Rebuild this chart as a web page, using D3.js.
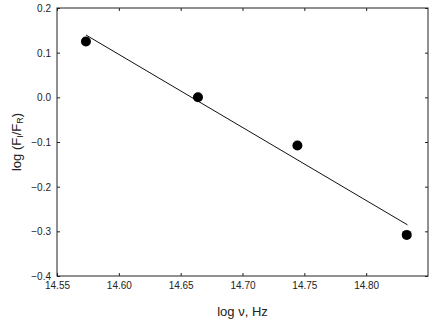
<!DOCTYPE html>
<html>
<head>
<meta charset="utf-8">
<script src="https://cdn.jsdelivr.net/npm/d3@7"></script>
<style>
  body { margin: 0; background: #fff; }
  text { font-family: "Liberation Sans", Arial, sans-serif; fill: #222; }
</style>
</head>
<body>
<svg id="chart"></svg>
<script>
/* data */
var logNu = [14.5734, 14.664, 14.7444, 14.8328];
var logRatio = [0.125, 0.0, -0.108, -0.308];
var fitX = [14.5734, 14.8334];
var fitY = [0.1396, -0.2855];
var xTicks = [14.55, 14.60, 14.65, 14.70, 14.75, 14.80];
var yTicks = [0.2, 0.1, 0.0, -0.1, -0.2, -0.3, -0.4];

var width = 436, height = 326,
    margin = { top: 8, right: 8, bottom: 50, left: 57 };
var innerWidth = width - margin.left - margin.right,
    innerHeight = height - margin.top - margin.bottom;

var svg = d3.select("#chart")
    .attr("width", width)
    .attr("height", height);

var g = svg.append("g")
    .attr("transform", "translate(" + margin.left + "," + margin.top + ")");

var x = d3.scaleLinear().domain([14.55, 14.85]).range([0, innerWidth]);
var y = d3.scaleLinear().domain([-0.4, 0.2]).range([innerHeight, 0]);

/* frame */
g.append("rect")
    .attr("width", innerWidth)
    .attr("height", innerHeight)
    .attr("fill", "none")
    .attr("stroke", "#222")
    .attr("stroke-width", 1);

/* axes, ticks pointing inward */
var xAxis = d3.axisBottom(x).tickValues(xTicks).tickSize(-3).tickPadding(6)
    .tickFormat(d3.format(".2f"));
var gx = g.append("g")
    .attr("transform", "translate(0," + innerHeight + ")")
    .call(xAxis);

var yAxis = d3.axisLeft(y).tickValues(yTicks).tickSize(-3).tickPadding(6)
    .tickFormat(d3.format(".1f"));
var gy = g.append("g").call(yAxis);

// mirrored ticks on top and right (no labels)
var gt = g.append("g").call(d3.axisTop(x).tickValues(xTicks).tickSize(-3));
var gr = g.append("g").attr("transform", "translate(" + innerWidth + ",0)")
    .call(d3.axisRight(y).tickValues(yTicks).tickSize(-3));
gt.selectAll("text").remove();
gr.selectAll("text").remove();

g.selectAll(".domain").remove();
g.selectAll(".tick line").attr("stroke", "#222");
g.selectAll(".tick text")
    .style("font-family", "'Liberation Sans', Arial, sans-serif")
    .style("font-size", "10px")
    .attr("fill", "#222");
gy.selectAll(".tick text").attr("dy", "0.35em");

/* fitted line */
var line = d3.line()
    .x(function(d) { return x(d[0]); })
    .y(function(d) { return y(d[1]); });

g.append("path")
    .datum(d3.zip(fitX, fitY))
    .attr("fill", "none")
    .attr("stroke", "#111")
    .attr("stroke-width", 1)
    .attr("d", line);

/* points */
g.selectAll("circle.pt")
    .data(d3.zip(logNu, logRatio))
    .enter().append("circle")
    .attr("class", "pt")
    .attr("cx", function(d) { return x(d[0]); })
    .attr("cy", function(d) { return y(d[1]); })
    .attr("r", 5)
    .attr("fill", "#000");

/* axis titles */
svg.append("text")
    .attr("x", margin.left + innerWidth / 2)
    .attr("y", 316)
    .attr("text-anchor", "middle")
    .style("font-size", "13px")
    .text("log \u03bd, Hz");

var yl = svg.append("text")
    .attr("transform", "translate(21," + (margin.top + innerHeight / 2) + ") rotate(-90)")
    .attr("text-anchor", "middle")
    .style("font-size", "13px");
yl.append("tspan").text("log (F");
yl.append("tspan").attr("baseline-shift", "-25%").style("font-size", "9px").text("I");
yl.append("tspan").text("/F");
yl.append("tspan").attr("baseline-shift", "-25%").style("font-size", "9px").text("R");
yl.append("tspan").text(")");
</script>
</body>
</html>
